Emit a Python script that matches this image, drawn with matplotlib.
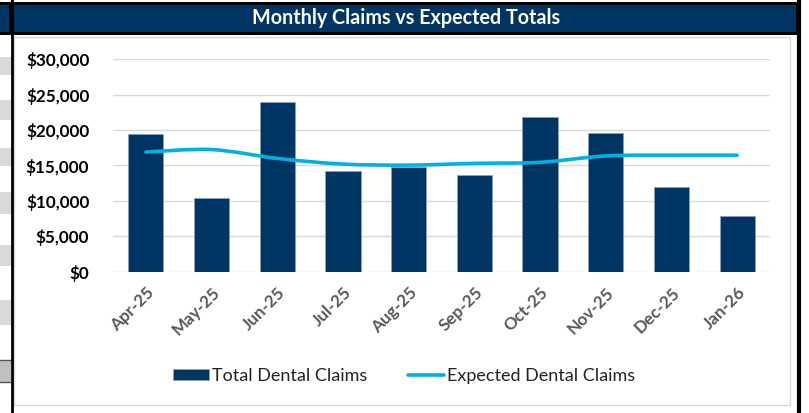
import matplotlib
matplotlib.use("Agg")
import matplotlib.pyplot as plt
from matplotlib.patches import Rectangle, PathPatch
from matplotlib.path import Path
from matplotlib.lines import Line2D
from matplotlib.ticker import FuncFormatter

months = ["Apr-25", "May-25", "Jun-25", "Jul-25", "Aug-25", "Sep-25",
          "Oct-25", "Nov-25", "Dec-25", "Jan-26"]
total_claims = [19500, 10400, 23900, 14250, 14800, 13650, 21800, 19600, 11900, 7800]
expected_claims = [16900, 17250, 16000, 15200, 15050, 15300, 15450, 16350, 16450, 16450]

NAVY = "#003462"
CYAN = "#00B0E2"
W, H = 809, 413

plt.rcParams['font.family'] = ['Lato', 'DejaVu Sans']
fig = plt.figure(figsize=(W / 100, H / 100), dpi=100)
fig.patch.set_facecolor("white")

def fx(x):
    return x / W

def fy(y):
    return 1 - y / H

def frect(x0, y0, x1, y1, **kw):
    fig.add_artist(Rectangle((fx(x0), fy(y1)), fx(x1 - x0), (y1 - y0) / H,
                             transform=fig.transFigure, zorder=-5, **kw))

# spreadsheet stripes on the left
for (a, b) in [(57, 75), (100, 120), (148, 166), (192, 214), (245, 266), (300, 325)]:
    frect(0, a, 11, b, facecolor="#d9d9d9", edgecolor="none")
frect(0, 360, 11, 382, facecolor="#c0c0c0", edgecolor="none")
for yy in [360, 382]:
    fig.add_artist(Line2D([0, fx(11)], [fy(yy), fy(yy)], transform=fig.transFigure,
                          color="#555555", lw=1, zorder=-4))

# chart area border
frect(14, 37, 790, 405, facecolor="white", edgecolor="#d9d9d9", lw=1)

# title bar
frect(0, 2, 800, 35, facecolor="black", edgecolor="none")
frect(0, 5, 9, 32, facecolor=NAVY, edgecolor="none")
frect(14, 5, 796, 32, facecolor=NAVY, edgecolor="none")
fig.text(fx(406), fy(18), "Monthly Claims vs Expected Totals", color="white",
         fontsize=14.2, fontweight="bold", ha="center", va="center")

# outer black borders
fig.add_artist(Line2D([fx(11.5), fx(11.5)], [0, 1], transform=fig.transFigure,
                      color="black", lw=2, zorder=-3))
fig.add_artist(Line2D([fx(798.5), fx(798.5)], [0, fy(2)], transform=fig.transFigure,
                      color="black", lw=3, zorder=-3))

ax = fig.add_axes([fx(113), fy(271.7), fx(770 - 113), (271.7 - 59.3) / H])
ax.set_zorder(5)
ax.set_facecolor("none")
x = list(range(len(months)))
bars = ax.bar(x, total_claims, width=0.535, color=NAVY, edgecolor="#8da2bb", linewidth=0.6,
              zorder=2)

# smoothed line (Catmull-Rom -> cubic Bezier) through the data points
pts = list(zip(x, expected_claims))
verts = [pts[0]]
codes = [Path.MOVETO]
n = len(pts)
for i in range(n - 1):
    p0 = pts[i - 1] if i > 0 else pts[i]
    p1 = pts[i]
    p2 = pts[i + 1]
    p3 = pts[i + 2] if i + 2 < n else pts[i + 1]
    c1 = (p1[0] + (p2[0] - p0[0]) / 6, p1[1] + (p2[1] - p0[1]) / 6)
    c2 = (p2[0] - (p3[0] - p1[0]) / 6, p2[1] - (p3[1] - p1[1]) / 6)
    verts += [c1, c2, p2]
    codes += [Path.CURVE4] * 3
ax.add_patch(PathPatch(Path(verts, codes), fill=False, edgecolor=CYAN, lw=2.6,
                       capstyle="round", joinstyle="round", zorder=3))
line_handle = Line2D([], [], color=CYAN, lw=2.6, solid_capstyle="round")

ax.set_xlim(-0.5, len(months) - 0.5)
ax.set_ylim(0, 30000)
ax.set_yticks(range(0, 30001, 5000))
ax.yaxis.set_major_formatter(FuncFormatter(lambda v, p: f"${v:,.0f}"))
ax.grid(axis="y", color="#d9d9d9", lw=1, zorder=0)
ax.set_axisbelow(True)
for s in ax.spines.values():
    s.set_visible(False)
ax.tick_params(axis="both", length=0)
ax.tick_params(axis="y", pad=17, labelsize=12.3)
for t in ax.get_yticklabels():
    t.set_fontweight("bold")
    t.set_color("black")
ax.set_xticks(x)
ax.set_xticklabels(months, rotation=45, ha="right", rotation_mode="anchor",
                   fontsize=12.3, fontweight="bold", color="#595959")
ax.tick_params(axis="x", pad=9)

leg = fig.legend([bars, line_handle], ["Total Dental Claims", "Expected Dental Claims"],
                 loc="center", bbox_to_anchor=(fx(404), fy(376)),
                 ncol=2, frameon=False, fontsize=13, handlelength=2.0, handleheight=0.6,
                 handletextpad=0.15, columnspacing=2.3)
for t in leg.get_texts():
    t.set_color("#222222")

fig.savefig("out.png", dpi=100, facecolor="white")
